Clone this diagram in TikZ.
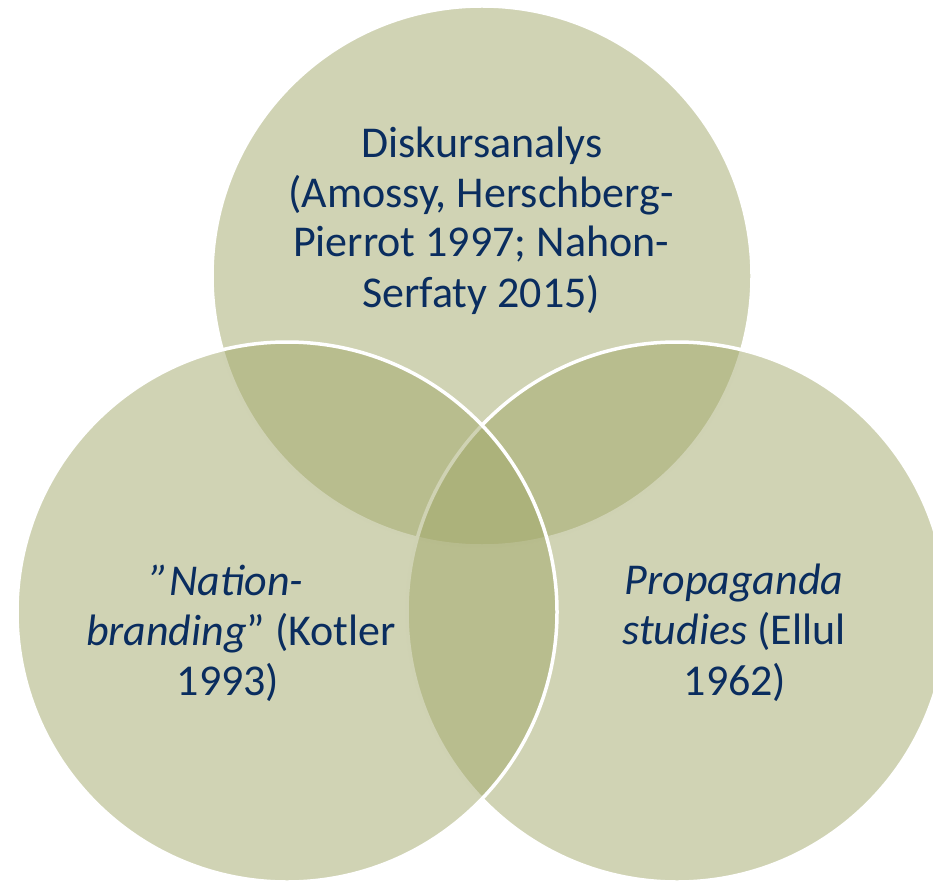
\documentclass[tikz,border=0pt]{standalone}
\usepackage{fontspec}
\setmainfont{Carlito}
\definecolor{olive}{RGB}{161,167,105}
\definecolor{navy}{RGB}{10,45,95}
\begin{document}
\begin{tikzpicture}[x=1pt,y=-1pt,
  venn/.style={fill=olive, fill opacity=0.5},
  rim/.style={draw=white, line width=3.5pt},
  lbl/.style={anchor=base, inner sep=0pt, text=navy, font=\fontsize{44}{52}\selectfont}]
\useasboundingbox (0,0) rectangle (933,882);
\clip (0,0) rectangle (933,882);
% top circle
\fill[venn] (482,276) circle[radius=270];
\draw[rim] (482,276) circle[radius=270];
% right circle
\fill[venn] (677,612) circle[radius=270];
\draw[rim] (677,612) circle[radius=270];
% left circle
\fill[venn] (287,612) circle[radius=270];
\draw[rim] (287,612) circle[radius=270];
% top text
\node[lbl] (t1) at (482,158) {Diskursanalys};
\node[lbl] (t2) at (481,208) {(Amossy, Herschberg-};
\node[lbl] (t3) at (481,257) {Pierrot 1997; Nahon-};
\node[lbl] (t4) at (481,307) {Serfaty 2015)};
% left text
\node[lbl] (l1) at (227,595) {\textit{”Nation-}};
\node[lbl] (l2) at (241,645) {\textit{branding}” (Kotler};
\node[lbl] (l3) at (228,695) {1993)};
% right text
\node[lbl] (r1) at (734,594) {\textit{Propaganda}};
\node[lbl] (r2) at (734,644) {\textit{studies} (Ellul};
\node[lbl] (r3) at (735,695) {1962)};
\end{tikzpicture}
\end{document}
